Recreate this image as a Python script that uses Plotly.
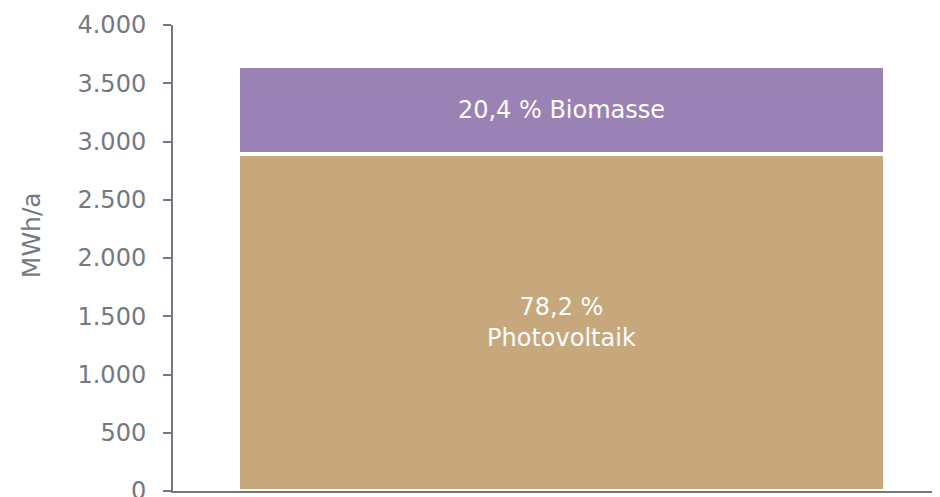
import plotly.graph_objects as go

categories = ["Gesamt"]
pv_values = [2890]
bio_values = [755]
pv_labels = ["78,2 %<br>Photovoltaik"]
bio_labels = ["20,4 % Biomasse"]
y_ticks = [0, 500, 1000, 1500, 2000, 2500, 3000, 3500, 4000]
y_tick_labels = ["0", "500", "1.000", "1.500", "2.000", "2.500", "3.000", "3.500", "4.000"]
y_title = "MWh/a"

axis_col = "#737983"
font_fam = "DejaVu Sans"

fig = go.Figure()
fig.add_trace(go.Bar(
    x=[0], y=pv_values, name="Photovoltaik", text=pv_labels,
    textposition="inside", insidetextanchor="middle", width=0.8436,
    marker=dict(color="#C6A87C", line=dict(color="white", width=4)),
    textfont=dict(color="white", size=24, family=font_fam),
    hoverinfo="skip",
))
fig.add_trace(go.Bar(
    x=[0], y=bio_values, name="Biomasse", text=bio_labels,
    textposition="inside", insidetextanchor="middle", width=0.8436,
    marker=dict(color="#9A82B4", line=dict(color="white", width=4)),
    textfont=dict(color="white", size=24, family=font_fam),
    hoverinfo="skip",
))

fig.add_annotation(
    text=y_title, xref="paper", yref="paper", x=-0.1851, y=0.549,
    xanchor="center", yanchor="middle", textangle=-90, showarrow=False,
    font=dict(size=25, color=axis_col, family=font_fam),
)

fig.update_layout(
    barmode="stack",
    width=932, height=489,
    margin=dict(l=165, r=0, t=17, b=6),
    plot_bgcolor="white", paper_bgcolor="white",
    showlegend=False,
    uniformtext=dict(mode=False),
    font=dict(family=font_fam, color=axis_col),
    xaxis=dict(
        range=[-0.5065, 0.4935], showticklabels=False, ticks="",
        showline=True, linecolor=axis_col, linewidth=2, showgrid=False,
        zeroline=False, fixedrange=True,
    ),
    yaxis=dict(
        range=[0, 4000], tickvals=y_ticks, ticktext=y_tick_labels,
        ticks="outside", ticklen=8, tickwidth=2, tickcolor=axis_col,
        showline=True, linecolor=axis_col, linewidth=2, showgrid=False,
        zeroline=False, tickfont=dict(size=24, color=axis_col, family=font_fam),
        ticklabelstandoff=12, automargin=False, ticklabeloverflow="allow",
    ),
)

fig.write_html("out.html")
